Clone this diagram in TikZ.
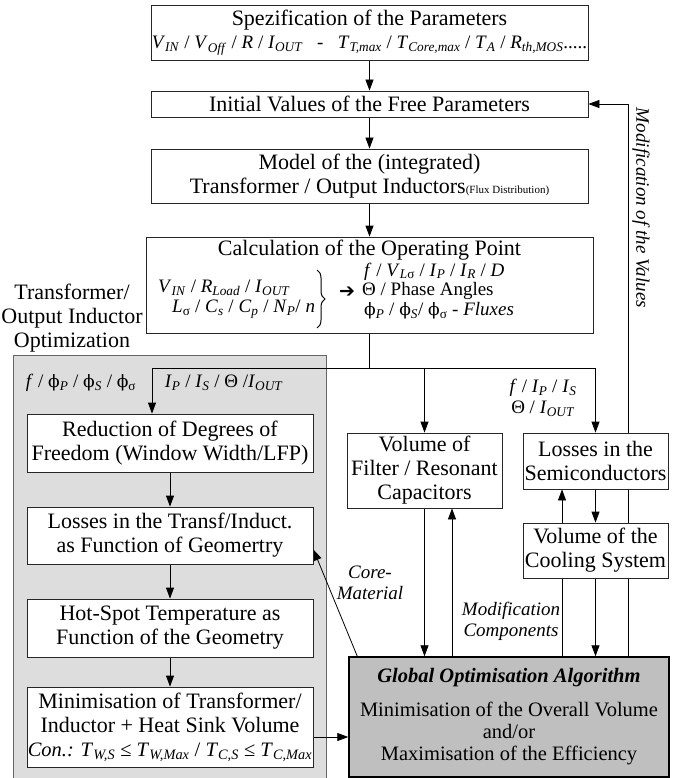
\documentclass[tikz,border=0pt]{standalone}
\usepackage{fontspec}
\setmainfont{Liberation Serif}
\newfontfamily\dvserif[Scale=0.9]{DejaVu Serif}
\newfontfamily\dvsans{DejaVu Sans}
\usetikzlibrary{arrows.meta,decorations.pathreplacing,calc}
\pgfdeclarelayer{back}
\pgfdeclarelayer{mid}
\pgfsetlayers{back,mid,main}
\definecolor{gA}{RGB}{221,221,221}
\definecolor{gB}{RGB}{191,191,191}
\newcommand\mainsz{\fontsize{22}{24}\selectfont}
\newcommand\globsz{\fontsize{20.5}{22}\selectfont}
\newcommand\smsz{\fontsize{19}{21}\selectfont}
\newcommand\tinysz{\fontsize{11}{13}\selectfont}
\newcommand\sy[2]{\textit{#1}\textsubscript{\textit{#2}}}
\newcommand\phiu{{\dvserif ϕ}}
\begin{document}
\begin{tikzpicture}[x=1pt,y=-1pt,
  box/.style={draw=black!85, line width=0.8pt, fill=white, inner sep=0pt, align=center, font=\mainsz},
  arr/.style={-{Triangle[length=11pt,width=8pt]}, line width=0.8pt},
  ln/.style={line width=0.8pt},
  lbl/.style={inner sep=0pt, align=center, font=\smsz},
]
\useasboundingbox (0,0) rectangle (691,778);

\begin{pgfonlayer}{back}
\node[draw=black!60, fill=gA, line width=0.8pt, minimum width=313pt, minimum height=423pt, inner sep=0pt] (optreg) at (169.5,566.5) {};
\end{pgfonlayer}

% top chain
\node[box, minimum width=437pt, minimum height=55pt] (spec) at (369.5,32.5)
  {Spezification of the Parameters\\[-1pt]{\smsz \sy{V}{IN} / \sy{V}{Off} / \textit{R} / \sy{I}{OUT}\ \ \ -\ \ \ \sy{T}{T,max} / \sy{T}{Core,max} / \sy{T}{A} / \sy{R}{th,MOS}.....}};
\node[box, minimum width=437pt, minimum height=26pt] (init) at (369.5,104) {Initial Values of the Free Parameters};
\node[box, minimum width=437pt, minimum height=54pt] (model) at (369.5,176)
  {Model of the (integrated)\\Transformer / Output Inductors{\tinysz(Flux Distribution)}};
\node[box, minimum width=447pt, minimum height=96pt] (calc) at (369.5,285) {};
\node[lbl, font=\mainsz] (calct) at (369.5,250) {Calculation of the Operating Point};
\node[lbl, anchor=west] (inL1) at (158,288) {\sy{V}{IN} / \sy{R}{Load} / \sy{I}{OUT}};
\node[lbl, anchor=west] (inL2) at (172,309) {\textit{L}\textsubscript{σ} / \sy{C}{s} / \sy{C}{p} / \sy{N}{P}/ \textit{n}};
\draw[decorate, decoration={brace, amplitude=8pt}, line width=1pt] (317,270) -- (317,328);
\node[lbl] (harr) at (347,292) {{\dvsans ➔}};
\node[lbl, anchor=west] (outR1) at (364,271.5) {\textit{f} / \textit{V}\textsubscript{\textit{L}σ} / \sy{I}{P} / \sy{I}{R} / \textit{D}};
\node[lbl, anchor=west] (outR2) at (362,291) {Θ / Phase Angles};
\node[lbl, anchor=west] (outR3) at (364,311) {\phiu\textsubscript{\textit{P}} / \phiu\textsubscript{\textit{S}}/ \phiu\textsubscript{σ} - \textit{Fluxes}};

\node[lbl, font=\mainsz, align=center] (optlbl) at (72,318) {Transformer/\\Output Inductor\\Optimization};

% left optimisation chain
\node[lbl] (glab1) at (81,383) {\textit{f} / \phiu\textsubscript{\textit{P}} / \phiu\textsubscript{\textit{S}} / \phiu\textsubscript{σ}};
\node[lbl] (glab2) at (224,383) {\sy{I}{P} / \sy{I}{S} / Θ /\sy{I}{OUT}};
\node[box, minimum width=286pt, minimum height=58pt] (red) at (170,443) {Reduction of Degrees of\\Freedom (Window Width/LFP)};
\node[box, minimum width=286pt, minimum height=57pt] (lossT) at (170,535.5) {Losses in the Transf/Induct.\\ as Function of Geomertry};
\node[box, minimum width=286pt, minimum height=58pt] (hot) at (170,628) {Hot-Spot Temperature as\\Function of the Geometry};
\node[box, minimum width=286pt, minimum height=80pt] (mini) at (170,727)
  {Minimisation of Transformer/\\Inductor + Heat Sink Volume\\{\fontsize{20.5}{24}\selectfont\textit{Con.:} \sy{T}{W,S} ≤ \sy{T}{W,Max} / \sy{T}{C,S} ≤ \sy{T}{C,Max}}};

% right column
\node[box, minimum width=155pt, minimum height=75pt] (filter) at (424.5,470.5) {Volume of\\Filter / Resonant\\Capacitors};
\node[box, minimum width=145pt, minimum height=56pt] (semi) at (595.5,461) {Losses in the\\Semiconductors};
\node[box, minimum width=145pt, minimum height=55pt] (cool) at (595.5,550.5) {Volume of the\\Cooling System};
\node[box, font=\globsz, fill=gB, draw=black, line width=1.4pt, minimum width=320pt, minimum height=120pt] (glob) at (509,717)
  {\textbf{\textit{Global Optimisation Algorithm}}\\[12pt]Minimisation of the Overall Volume\\and/or\\Maximisation of the Efficiency};

% labels
\node[lbl, font=\smsz] (fip) at (543,398) {\textit{f} / \sy{I}{P} / \sy{I}{S}\\Θ / \sy{I}{OUT}};
\node[lbl] (coremat) at (370,583) {\textit{Core-}\\\textit{Material}};
\node[lbl] (modcomp) at (511,621) {\textit{Modification}\\\textit{Components}};
\node[lbl, rotate=-90] (modval) at (641,208) {\textit{Modification of the Values}};

\coordinate (bus) at (369.5,368);
\coordinate (busL) at (152,368);
\coordinate (busR) at (595.5,368);
\coordinate (xa) at (562,0);
\coordinate (xb) at (628,0);
\coordinate (xc) at (452,0);
\coordinate (mE) at ($(mini.east)+(0,10)$);
\coordinate (cS) at ($(glob.north west)+(9,0)$);
\coordinate (cE) at ($(lossT.east)+(0,14)$);

\begin{pgfonlayer}{mid}
\draw[arr] (spec) -- (init);
\draw[arr] (init) -- (model);
\draw[arr] (model) -- (calc);
\draw[ln] (calc.south) -- (bus);
\draw[ln] (busL) -- (busR);
\draw[arr] (busL) -- (busL |- red.north);
\draw[arr] (filter.north |- bus) -- (filter.north);
\draw[arr] (busR) -- (semi.north);
\draw[arr] (semi.south) -- (cool.north);
\draw[arr] (glob.north -| xa) -- (semi.south -| xa);
\draw[arr] (cool.south) -- (glob.north -| cool.south);
\draw[arr] (glob.north -| xb) |- (init.east);
\draw[arr] (filter.south) -- (filter.south |- glob.north);
\draw[arr] (glob.north -| xc) -- (filter.south -| xc);
\draw[arr] (red) -- (lossT);
\draw[arr] (lossT) -- (hot);
\draw[arr] (hot) -- (mini);
\draw[arr] (mE) -- (mE -| glob.west);
\draw[arr] (cS) -- (cE);
\end{pgfonlayer}
\end{tikzpicture}
\end{document}
